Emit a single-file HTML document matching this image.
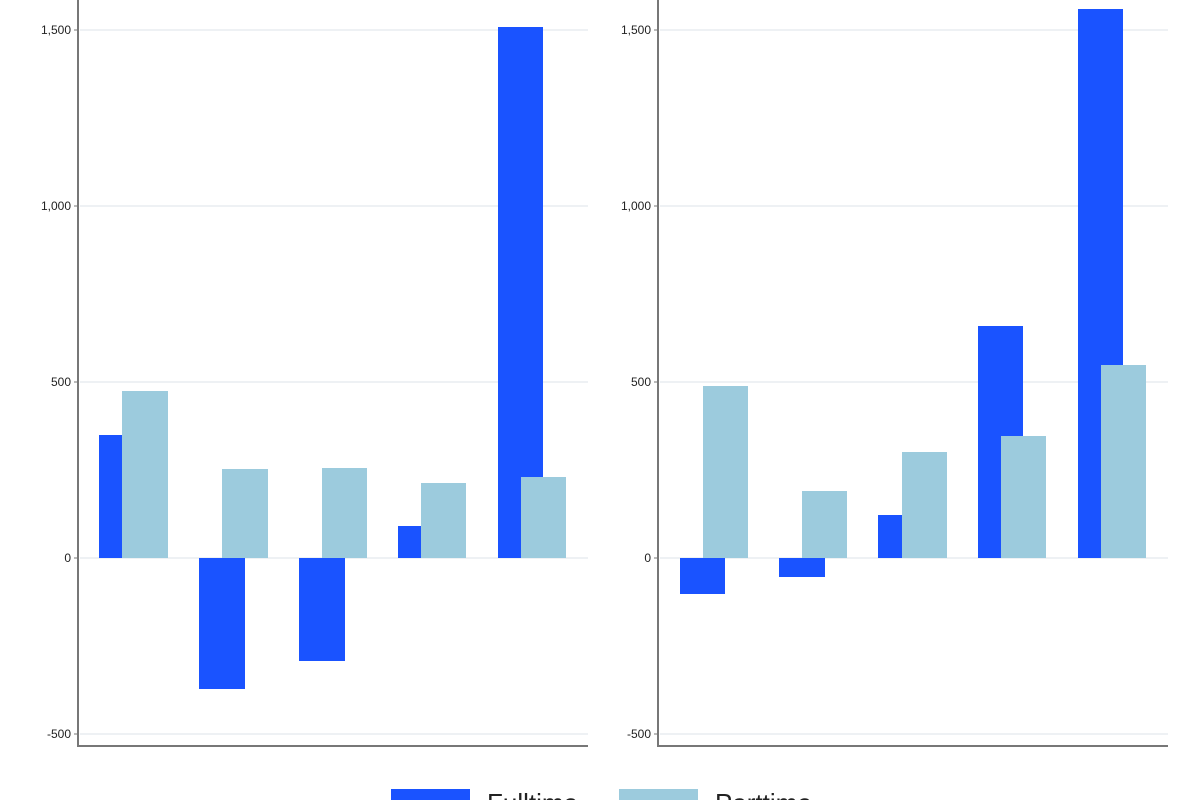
<!DOCTYPE html>
<html><head><meta charset="utf-8"><style>body{margin:0;background:#fff}svg{display:block}</style></head>
<body>
<svg width="1200" height="800" viewBox="0 0 1200 800" xmlns="http://www.w3.org/2000/svg" font-family="Liberation Sans, sans-serif">
<g stroke="#eef1f4" stroke-width="2">
<line x1="80" y1="30" x2="588" y2="30"/><line x1="80" y1="206" x2="588" y2="206"/><line x1="80" y1="382" x2="588" y2="382"/><line x1="80" y1="558" x2="588" y2="558"/><line x1="80" y1="734" x2="588" y2="734"/>
<line x1="660" y1="30" x2="1168" y2="30"/><line x1="660" y1="206" x2="1168" y2="206"/><line x1="660" y1="382" x2="1168" y2="382"/><line x1="660" y1="558" x2="1168" y2="558"/><line x1="660" y1="734" x2="1168" y2="734"/>
</g>
<g fill="#1a53ff">
<rect x="99" y="435" width="46" height="123"/><rect x="199" y="558" width="46" height="131"/><rect x="299" y="558" width="46" height="103"/><rect x="398" y="526" width="46" height="32"/><rect x="498" y="27" width="45" height="531"/>
<rect x="680" y="558" width="45" height="36"/><rect x="779" y="558" width="46" height="19"/><rect x="878" y="515" width="46" height="43"/><rect x="978" y="326" width="45" height="232"/><rect x="1078" y="9" width="45" height="549"/>
</g>
<g fill="#9ccbdd">
<rect x="122" y="391" width="46" height="167"/><rect x="222" y="469" width="46" height="89"/><rect x="322" y="468" width="45" height="90"/><rect x="421" y="483" width="45" height="75"/><rect x="521" y="477" width="45" height="81"/>
<rect x="703" y="386" width="45" height="172"/><rect x="802" y="491" width="45" height="67"/><rect x="902" y="452" width="45" height="106"/><rect x="1001" y="436" width="45" height="122"/><rect x="1101" y="365" width="45" height="193"/>
</g>
<g stroke="#777" stroke-width="2" fill="none">
<polyline points="78,0 78,746 588,746"/><polyline points="658,0 658,746 1168,746"/>
</g>
<g stroke="#777" stroke-width="1">
<line x1="74" y1="30" x2="78" y2="30"/><line x1="74" y1="206" x2="78" y2="206"/><line x1="74" y1="382" x2="78" y2="382"/><line x1="74" y1="558" x2="78" y2="558"/><line x1="74" y1="734" x2="78" y2="734"/>
<line x1="654" y1="30" x2="658" y2="30"/><line x1="654" y1="206" x2="658" y2="206"/><line x1="654" y1="382" x2="658" y2="382"/><line x1="654" y1="558" x2="658" y2="558"/><line x1="654" y1="734" x2="658" y2="734"/>
</g>
<g font-size="12" fill="#222" text-anchor="end">
<text x="71" y="34">1,500</text><text x="71" y="210">1,000</text><text x="71" y="386">500</text><text x="71" y="562">0</text><text x="71" y="738">-500</text>
<text x="651" y="34">1,500</text><text x="651" y="210">1,000</text><text x="651" y="386">500</text><text x="651" y="562">0</text><text x="651" y="738">-500</text>
</g>
<rect x="391" y="789" width="79" height="20" fill="#1a53ff"/>
<rect x="619" y="789" width="79" height="20" fill="#9ccbdd"/>
<g font-size="26" fill="#222"><text x="487" y="812">Fulltime</text><text x="715" y="812">Parttime</text></g>
</svg>
</body></html>
